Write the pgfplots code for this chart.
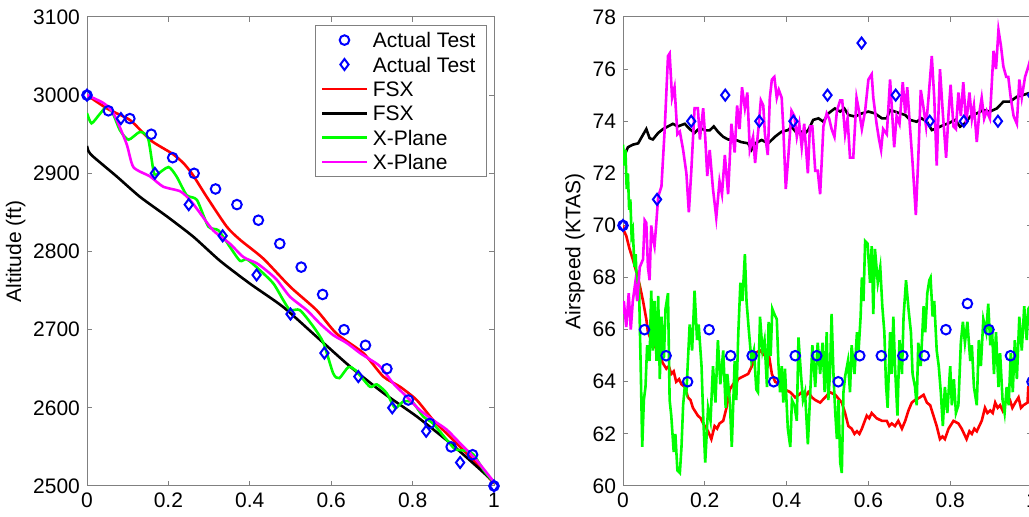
\documentclass[border=0pt]{standalone}
\usepackage{fontspec}
\setmainfont{Liberation Sans}
\usepackage{pgfplots}
\pgfplotsset{compat=1.18}
\definecolor{axgray}{RGB}{128,128,128}
\definecolor{mblue}{RGB}{0,0,255}
\definecolor{mred}{RGB}{255,0,0}
\definecolor{mgreen}{RGB}{0,255,0}
\definecolor{mmag}{RGB}{255,0,255}
\newcommand{\fs}{\fontsize{10.5}{12.6}\selectfont}
\pgfplotsset{
  mstyle/.style={
    scale only axis,
    height=234.5pt,
    xmin=0, xmax=1,
    xtick={0,0.2,0.4,0.6,0.8,1},
    axis line style={draw=axgray, line width=0.5pt},
    tick style={draw=axgray, line width=0.5pt},
    major tick length=2.5pt,
    tick align=inside,
    tick label style={font=\fs, text=black},
    label style={font=\fs},
    ylabel style={yshift=-3pt},
    /pgf/number format/assume math mode=true,
    /pgf/number format/1000 sep={},
    scaled y ticks=false,
    scaled x ticks=false,
    legend image code/.code={%
      \draw[mark repeat=2,mark phase=2,##1]
        plot coordinates {(0pt,0pt) (11pt,0pt) (22pt,0pt)};%
    },
  },
  circ/.style={only marks, mark=o, mark size=2.4pt, draw=mblue, line width=1pt},
  diam/.style={only marks, mark=diamond, mark size=2.75pt, draw=mblue, line width=1pt},
  ln/.style={no marks, line width=1.3pt, draw=#1},
}
\begin{document}
\begin{tikzpicture}
\path[use as bounding box] (0,0) rectangle (514.5pt,258.5pt);
\clip (0,0) rectangle (514.5pt,258.5pt);
% ---------------- left ----------------
\begin{axis}[mstyle, at={(43.5pt,15.5pt)}, anchor=south west, width=203.5pt,
  ymin=2500, ymax=3100, ytick={2500,2600,...,3100},
  ylabel={Altitude (ft)},
  legend cell align=left,
  legend style={at={(1,1)}, anchor=north east, xshift=-3.5pt, yshift=-4pt,
    draw=axgray, line width=0.5pt, font=\fs, row sep=4.6pt,
    inner xsep=3pt, inner ysep=3.5pt,
    nodes={inner xsep=2.5pt, inner ysep=0pt, text height=7.6pt, text depth=0pt}},
]
\addplot[circ] coordinates {(0,3000) (0.0526,2980) (0.1053,2970) (0.1579,2950) (0.2105,2920) (0.2632,2900) (0.3158,2880) (0.3684,2860) (0.4211,2840) (0.4737,2810) (0.5263,2780) (0.5789,2745) (0.6316,2700) (0.6842,2680) (0.7368,2650) (0.7895,2610) (0.8421,2580) (0.8947,2550) (0.9474,2540) (1,2500)};
\addlegendentry{Actual Test}
\addplot[diam] coordinates {(0,3000) (0.0833,2970) (0.1667,2900) (0.25,2860) (0.3333,2820) (0.4167,2770) (0.5,2720) (0.5833,2670) (0.6667,2640) (0.75,2600) (0.8333,2570) (0.9167,2530) (1,2500)};
\addlegendentry{Actual Test}
\addplot[ln=mred, smooth, tension=0.4] coordinates {(0,3000) (0.052,2982) (0.106,2968) (0.157,2942) (0.21,2925) (0.237,2913) (0.26,2898) (0.294,2870) (0.343,2832) (0.376,2815) (0.433,2791) (0.499,2755) (0.564,2725) (0.613,2695) (0.679,2670) (0.728,2640) (0.769,2627) (0.81,2610) (0.851,2584) (0.892,2563) (0.949,2533) (1,2503)};
\addlegendentry{FSX}
\addplot[ln=black, smooth, tension=0.4] coordinates {(0,2935) (0.004,2928) (0.016,2921) (0.073,2896) (0.13,2870) (0.196,2845) (0.261,2819) (0.327,2788) (0.4,2759) (0.482,2729) (0.564,2691) (0.646,2653) (0.728,2619) (0.81,2589) (0.892,2555) (0.949,2529) (1,2505)};
\addlegendentry{FSX}
\addplot[ln=mgreen, smooth, tension=0.4] coordinates {(0,2977) (0.011,2964) (0.03,2975) (0.05,2986) (0.065,2975) (0.081,2955) (0.102,2943) (0.13,2953) (0.15,2945) (0.163,2904) (0.17,2898) (0.2,2908) (0.22,2896) (0.245,2872) (0.27,2866) (0.298,2832) (0.323,2827) (0.351,2806) (0.376,2788) (0.393,2790) (0.425,2776) (0.458,2759) (0.482,2738) (0.499,2725) (0.523,2725) (0.556,2704) (0.581,2683) (0.605,2644) (0.62,2638) (0.642,2652) (0.66,2648) (0.695,2627) (0.712,2630) (0.736,2619) (0.757,2600) (0.777,2608) (0.8,2607) (0.826,2589) (0.85,2580) (0.884,2559) (0.905,2547) (0.934,2545) (0.95,2540) (0.975,2520) (1,2504)};
\addlegendentry{X-Plane}
\addplot[ln=mmag, smooth, tension=0.4] coordinates {(0,3000) (0.04,2990) (0.065,2977) (0.097,2938) (0.114,2908) (0.155,2896) (0.187,2883) (0.229,2877) (0.253,2866) (0.278,2849) (0.31,2827) (0.351,2810) (0.384,2793) (0.417,2785) (0.44,2776) (0.466,2764) (0.499,2742) (0.54,2725) (0.572,2708) (0.605,2693) (0.638,2683) (0.671,2670) (0.695,2662) (0.72,2653) (0.753,2631) (0.786,2614) (0.818,2597) (0.851,2584) (0.884,2572) (0.916,2555) (0.957,2533) (1,2505)};
\addlegendentry{X-Plane}
\end{axis}
% ---------------- right ----------------
\begin{axis}[mstyle, at={(311.5pt,15.5pt)}, anchor=south west, width=204.5pt,
  ymin=60, ymax=78, ytick={60,62,...,78},
  ylabel={Airspeed (KTAS)},
]
\addplot[circ] coordinates {(0,70) (0.0526,66) (0.1053,65) (0.1579,64) (0.2105,66) (0.2632,65) (0.3158,65) (0.3684,64) (0.4211,65) (0.4737,65) (0.5263,64) (0.5789,65) (0.6316,65) (0.6842,65) (0.7368,65) (0.7895,66) (0.8421,67) (0.8947,66) (0.9474,65) (1,64)};
\addplot[diam] coordinates {(0,70) (0.0833,71) (0.1667,74) (0.25,75) (0.3333,74) (0.4167,74) (0.5,75) (0.5833,77) (0.6667,75) (0.75,74) (0.8333,74) (0.9167,74) (1,75)};
\addplot[ln=mred] coordinates {(0.000,70.0) (0.002,69.8) (0.008,69.6) (0.016,69.1) (0.024,68.7) (0.033,68.2) (0.041,67.7) (0.049,67.1) (0.057,66.4) (0.061,65.9) (0.069,65.6) (0.077,65.4) (0.086,65.1) (0.098,64.7) (0.106,64.5) (0.112,64.6) (0.118,64.3) (0.124,64.4) (0.130,64.0) (0.137,64.1) (0.143,63.9) (0.151,63.8) (0.159,63.4) (0.165,63.3) (0.171,63.0) (0.183,62.7) (0.190,62.6) (0.196,62.4) (0.208,62.1) (0.216,61.8) (0.224,62.3) (0.230,62.2) (0.236,62.4) (0.245,62.5) (0.253,63.0) (0.261,63.7) (0.269,63.9) (0.275,63.8) (0.281,64.1) (0.293,64.2) (0.306,64.3) (0.318,64.7) (0.323,65.1) (0.335,65.2) (0.347,65.0) (0.356,65.1) (0.364,64.3) (0.372,64.0) (0.384,63.9) (0.396,63.7) (0.409,63.6) (0.421,63.4) (0.430,63.5) (0.437,63.6) (0.445,63.4) (0.453,63.6) (0.462,63.4) (0.470,63.3) (0.482,63.2) (0.494,63.4) (0.506,63.6) (0.519,63.5) (0.535,63.2) (0.543,62.8) (0.551,62.3) (0.559,62.2) (0.566,62.0) (0.572,62.1) (0.578,62.0) (0.584,62.2) (0.596,62.7) (0.602,62.6) (0.608,62.8) (0.620,62.6) (0.633,62.5) (0.645,62.5) (0.651,62.3) (0.657,62.4) (0.665,62.3) (0.673,62.5) (0.682,62.2) (0.690,62.5) (0.698,62.9) (0.706,63.2) (0.714,63.3) (0.726,63.4) (0.735,63.5) (0.743,63.2) (0.751,63.1) (0.759,62.7) (0.767,62.3) (0.775,61.8) (0.781,61.9) (0.787,61.8) (0.796,62.2) (0.808,62.5) (0.820,62.4) (0.828,62.2) (0.834,62.0) (0.840,61.8) (0.847,62.1) (0.853,62.0) (0.859,62.2) (0.865,62.1) (0.877,62.5) (0.885,63.0) (0.891,62.8) (0.898,62.9) (0.904,62.8) (0.910,63.2) (0.916,63.0) (0.922,63.1) (0.928,62.9) (0.934,63.2) (0.946,63.3) (0.952,63.0) (0.959,63.2) (0.967,63.4) (0.973,63.0) (0.979,63.1) (0.989,63.2) (0.991,63.8) (1.000,63.9)};
\addplot[ln=black] coordinates {(0.000,72.5) (0.004,72.7) (0.012,73.0) (0.024,73.1) (0.037,73.15) (0.046,73.4) (0.057,73.7) (0.065,73.35) (0.073,73.3) (0.086,73.55) (0.098,73.7) (0.110,73.8) (0.122,73.9) (0.134,73.8) (0.151,73.9) (0.163,73.7) (0.175,73.55) (0.188,73.75) (0.200,73.65) (0.212,73.65) (0.222,73.8) (0.232,73.6) (0.245,73.4) (0.257,73.3) (0.273,73.3) (0.289,73.2) (0.306,73.15) (0.314,72.9) (0.323,73.15) (0.339,73.28) (0.355,73.15) (0.372,73.41) (0.388,73.6) (0.404,73.66) (0.412,73.79) (0.425,73.54) (0.437,73.6) (0.445,73.54) (0.453,73.66) (0.465,74.05) (0.478,74.11) (0.490,73.98) (0.502,74.3) (0.518,74.49) (0.531,74.37) (0.541,74.49) (0.551,74.24) (0.567,74.18) (0.584,74.3) (0.600,74.37) (0.616,74.3) (0.633,74.11) (0.645,74.11) (0.653,74.43) (0.665,74.37) (0.677,74.3) (0.690,74.24) (0.702,74.05) (0.718,73.98) (0.730,74.11) (0.743,73.98) (0.755,73.66) (0.767,73.73) (0.783,73.85) (0.796,73.92) (0.812,74.05) (0.824,73.79) (0.836,73.92) (0.849,74.18) (0.865,74.3) (0.881,74.43) (0.897,74.37) (0.914,74.49) (0.930,74.75) (0.946,74.75) (0.963,74.94) (0.979,75.01) (0.991,75.07) (1,75.0)};
\addplot[ln=mgreen] coordinates {(0.000,73.1) (0.003,72.3) (0.006,72.9) (0.009,71.4) (0.012,72.0) (0.015,70.6) (0.018,71.0) (0.021,69.6) (0.024,69.8) (0.028,68.4) (0.031,68.9) (0.035,67.1) (0.039,67.8) (0.044,64.0) (0.047,61.5) (0.051,63.3) (0.055,63.8) (0.059,65.4) (0.065,64.8) (0.069,67.5) (0.073,65.2) (0.077,67.1) (0.082,64.8) (0.086,67.3) (0.090,64.1) (0.094,66.5) (0.100,64.9) (0.104,66.8) (0.110,67.4) (0.114,63.3) (0.118,62.7) (0.124,61.3) (0.128,62.0) (0.133,60.6) (0.139,60.5) (0.143,61.5) (0.147,63.1) (0.151,63.8) (0.155,63.6) (0.163,66.2) (0.169,65.2) (0.175,67.5) (0.181,65.6) (0.185,66.2) (0.192,64.6) (0.196,62.7) (0.201,60.9) (0.208,63.0) (0.214,62.5) (0.220,64.6) (0.226,63.2) (0.232,65.6) (0.238,63.9) (0.245,65.2) (0.251,63.0) (0.255,64.3) (0.261,63.3) (0.266,61.5) (0.273,64.8) (0.277,63.3) (0.282,65.9) (0.287,67.8) (0.292,67.1) (0.298,68.9) (0.302,67.1) (0.307,66.1) (0.314,64.8) (0.320,65.2) (0.326,63.7) (0.330,63.6) (0.335,66.5) (0.341,65.2) (0.346,65.6) (0.352,63.8) (0.356,66.3) (0.361,65.0) (0.365,66.8) (0.370,66.6) (0.376,66.4) (0.380,64.7) (0.384,63.6) (0.388,64.6) (0.392,63.2) (0.396,64.5) (0.403,62.2) (0.409,61.5) (0.413,63.3) (0.419,63.1) (0.425,62.5) (0.429,65.7) (0.435,64.3) (0.440,63.3) (0.445,63.6) (0.452,61.6) (0.457,63.3) (0.463,65.4) (0.470,63.8) (0.476,65.5) (0.482,64.3) (0.488,65.5) (0.493,63.6) (0.498,65.9) (0.502,63.3) (0.506,64.3) (0.510,66.6) (0.515,64.1) (0.519,62.8) (0.523,61.8) (0.527,63.3) (0.531,60.9) (0.535,60.5) (0.539,63.6) (0.543,64.2) (0.550,64.8) (0.555,63.6) (0.559,65.4) (0.566,64.3) (0.572,65.9) (0.576,65.2) (0.581,66.5) (0.584,68.0) (0.588,67.1) (0.592,69.4) (0.598,69.3) (0.604,67.8) (0.608,69.2) (0.612,66.6) (0.616,69.1) (0.623,67.8) (0.629,68.4) (0.634,66.9) (0.639,65.9) (0.643,63.9) (0.647,63.0) (0.653,65.9) (0.657,64.3) (0.661,66.5) (0.665,64.6) (0.671,62.7) (0.676,65.6) (0.682,64.3) (0.686,66.5) (0.692,67.9) (0.698,66.8) (0.704,65.9) (0.708,64.3) (0.714,63.8) (0.718,63.1) (0.722,65.5) (0.728,64.6) (0.735,66.9) (0.739,65.9) (0.744,67.4) (0.749,67.9) (0.752,68.0) (0.757,66.5) (0.761,67.1) (0.767,65.2) (0.772,64.6) (0.777,63.6) (0.782,62.3) (0.787,63.8) (0.793,62.8) (0.800,64.6) (0.804,63.1) (0.809,64.1) (0.814,62.8) (0.820,63.1) (0.826,65.5) (0.831,66.3) (0.836,65.5) (0.842,66.3) (0.849,64.8) (0.853,65.4) (0.858,63.8) (0.865,63.1) (0.870,65.6) (0.875,64.6) (0.881,66.4) (0.888,65.9) (0.893,67.0) (0.898,65.4) (0.902,66.1) (0.907,64.3) (0.912,65.9) (0.918,63.8) (0.922,65.1) (0.928,63.3) (0.933,62.8) (0.938,63.8) (0.943,63.1) (0.948,65.1) (0.953,63.6) (0.958,65.6) (0.963,64.1) (0.969,66.5) (0.975,65.2) (0.981,66.9) (0.987,65.6) (0.991,66.8) (1.000,67.0)};
\addplot[ln=mmag] coordinates {(0.000,66.6) (0.002,67.1) (0.008,66.1) (0.014,67.4) (0.019,66.0) (0.024,67.1) (0.030,67.8) (0.035,67.1) (0.041,68.4) (0.049,68.7) (0.053,70.2) (0.057,70.1) (0.061,68.4) (0.065,67.9) (0.069,70.0) (0.073,69.5) (0.077,69.2) (0.081,70.0) (0.086,71.1) (0.094,71.5) (0.102,73.7) (0.110,76.5) (0.114,76.6) (0.120,74.9) (0.126,75.3) (0.133,73.5) (0.139,73.6) (0.147,72.9) (0.155,72.0) (0.161,70.5) (0.167,72.1) (0.175,74.5) (0.183,74.5) (0.188,73.3) (0.196,74.5) (0.201,73.4) (0.206,71.9) (0.212,72.9) (0.220,71.4) (0.228,70.3) (0.236,71.7) (0.242,71.2) (0.249,72.7) (0.257,71.2) (0.265,73.9) (0.273,72.8) (0.279,74.6) (0.285,73.7) (0.291,75.3) (0.298,74.5) (0.304,75.1) (0.310,72.9) (0.318,73.4) (0.323,72.4) (0.331,73.7) (0.337,74.8) (0.343,74.6) (0.347,73.5) (0.354,72.7) (0.359,74.9) (0.364,75.6) (0.370,75.7) (0.376,74.9) (0.381,75.2) (0.388,74.9) (0.392,73.7) (0.398,71.4) (0.404,72.6) (0.412,74.4) (0.419,74.2) (0.425,73.4) (0.431,73.9) (0.437,73.0) (0.443,73.9) (0.452,72.0) (0.457,73.8) (0.463,73.8) (0.470,72.1) (0.476,72.1) (0.482,71.2) (0.490,73.8) (0.498,74.3) (0.504,74.1) (0.510,73.7) (0.517,73.4) (0.523,74.4) (0.531,74.8) (0.536,74.8) (0.543,73.5) (0.549,74.1) (0.555,72.6) (0.563,72.6) (0.571,74.9) (0.577,74.4) (0.584,73.7) (0.592,74.4) (0.600,75.6) (0.608,75.8) (0.612,74.9) (0.620,73.9) (0.626,73.3) (0.631,72.9) (0.636,73.7) (0.645,73.5) (0.653,75.6) (0.660,73.8) (0.663,73.0) (0.669,74.2) (0.676,73.9) (0.684,75.5) (0.690,74.3) (0.695,75.3) (0.702,73.7) (0.708,72.4) (0.716,70.4) (0.722,72.6) (0.728,75.2) (0.734,74.6) (0.741,73.8) (0.747,74.9) (0.755,76.5) (0.761,74.9) (0.767,72.3) (0.775,76.0) (0.782,74.3) (0.790,72.6) (0.796,74.3) (0.801,75.4) (0.808,73.8) (0.814,73.7) (0.820,75.1) (0.826,74.2) (0.832,75.5) (0.839,73.9) (0.847,75.1) (0.853,74.1) (0.858,74.6) (0.865,73.2) (0.871,74.3) (0.877,74.9) (0.883,74.1) (0.889,74.4) (0.897,74.1) (0.906,76.7) (0.912,76.0) (0.918,77.5) (0.924,76.9) (0.930,76.1) (0.937,75.7) (0.942,75.7) (0.948,74.9) (0.955,74.2) (0.963,73.9) (0.969,75.6) (0.975,74.9) (0.983,75.7) (0.991,76.1) (1.000,76.6)};
\end{axis}
\end{tikzpicture}
\end{document}
